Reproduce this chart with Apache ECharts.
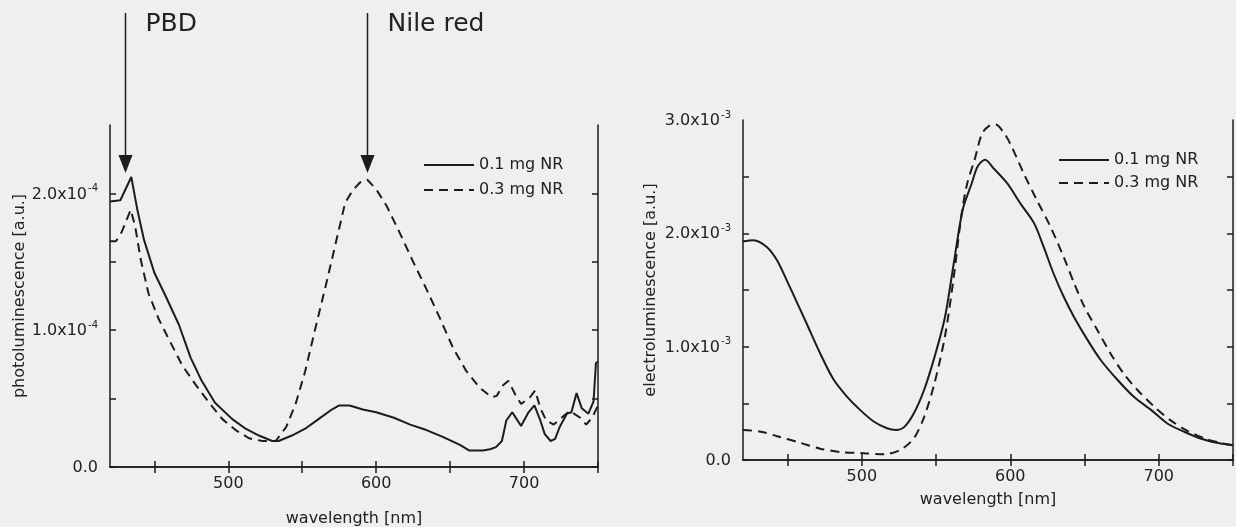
<!DOCTYPE html>
<html>
<head>
<meta charset="utf-8">
<script src="https://cdn.jsdelivr.net/npm/echarts@6/dist/echarts.min.js"></script>
<style>
  html, body { margin: 0; padding: 0; background: #efefef; }
  #main { width: 1236px; height: 527px; }
</style>
</head>
<body>
<div id="main"></div>
<script>
// photoluminescence (left panel), wavelength in nm
const plThinX = [420, 427, 434.4, 438.5, 443, 450, 457.6, 466.6, 474.5, 482, 491, 502.7, 511.7, 520.7, 529.7, 534, 543, 552, 561, 570, 575, 582, 591, 600, 612, 623, 634, 645, 657, 663, 672, 677, 681, 685, 688, 692, 695, 698, 703, 707, 711, 714, 718, 721, 724, 729, 732, 735.5, 739, 743.5, 747, 748.6, 750];
const plThinY = [1.94e-4, 1.95e-4, 2.12e-4, 1.88e-4, 1.66e-4, 1.42e-4, 1.25e-4, 1.04e-4, 0.80e-4, 0.63e-4, 0.47e-4, 0.35e-4, 0.28e-4, 0.23e-4, 0.19e-4, 0.19e-4, 0.23e-4, 0.28e-4, 0.35e-4, 0.42e-4, 0.45e-4, 0.45e-4, 0.42e-4, 0.40e-4, 0.36e-4, 0.31e-4, 0.27e-4, 0.22e-4, 0.16e-4, 0.12e-4, 0.12e-4, 0.13e-4, 0.145e-4, 0.19e-4, 0.34e-4, 0.40e-4, 0.35e-4, 0.30e-4, 0.40e-4, 0.45e-4, 0.34e-4, 0.24e-4, 0.19e-4, 0.205e-4, 0.29e-4, 0.39e-4, 0.40e-4, 0.54e-4, 0.43e-4, 0.39e-4, 0.48e-4, 0.76e-4, 0.77e-4];
const plThickX = [420, 424, 428, 434, 437, 440.7, 446, 453, 460, 469, 478, 487, 496, 505, 514, 523, 532, 539, 545.5, 552, 559, 566, 572.5, 579, 584, 589, 594, 600, 607, 616, 625, 634, 643, 652, 661, 670, 678, 681.5, 686, 689.5, 694, 698, 704, 707.5, 711, 715, 720, 726.5, 731, 738, 742, 746, 750];
const plThickY = [1.65e-4, 1.65e-4, 1.72e-4, 1.88e-4, 1.76e-4, 1.52e-4, 1.27e-4, 1.08e-4, 0.93e-4, 0.74e-4, 0.60e-4, 0.47e-4, 0.35e-4, 0.27e-4, 0.21e-4, 0.19e-4, 0.19e-4, 0.29e-4, 0.46e-4, 0.70e-4, 1.02e-4, 1.33e-4, 1.63e-4, 1.93e-4, 2.02e-4, 2.08e-4, 2.10e-4, 2.03e-4, 1.91e-4, 1.71e-4, 1.50e-4, 1.30e-4, 1.09e-4, 0.87e-4, 0.70e-4, 0.58e-4, 0.51e-4, 0.52e-4, 0.60e-4, 0.63e-4, 0.53e-4, 0.46e-4, 0.51e-4, 0.56e-4, 0.43e-4, 0.34e-4, 0.31e-4, 0.37e-4, 0.41e-4, 0.36e-4, 0.31e-4, 0.36e-4, 0.45e-4];

// electroluminescence (right panel)
const elThinX = [420, 427, 436, 443, 450, 456, 463, 472, 481, 490, 499, 508, 517, 523, 528.5, 535, 542, 549, 556, 562, 568, 574, 578, 583, 589, 598, 607, 616, 622.5, 629, 636, 643, 652, 661, 672, 683, 695, 706, 717, 728, 740, 750];
const elThinY = [1.93e-3, 1.94e-3, 1.88e-3, 1.76e-3, 1.57e-3, 1.40e-3, 1.20e-3, 0.94e-3, 0.71e-3, 0.56e-3, 0.44e-3, 0.34e-3, 0.28e-3, 0.265e-3, 0.29e-3, 0.41e-3, 0.62e-3, 0.91e-3, 1.26e-3, 1.74e-3, 2.21e-3, 2.44e-3, 2.59e-3, 2.65e-3, 2.57e-3, 2.44e-3, 2.26e-3, 2.09e-3, 1.88e-3, 1.65e-3, 1.44e-3, 1.26e-3, 1.06e-3, 0.88e-3, 0.71e-3, 0.56e-3, 0.44e-3, 0.32e-3, 0.25e-3, 0.19e-3, 0.15e-3, 0.13e-3];
const elThickX = [420, 432, 443, 459, 472, 486, 501.5, 515, 526, 535, 542, 549, 556, 562, 567, 571, 576, 581, 586, 590, 595, 600, 609, 618, 627, 636, 643, 650, 658.5, 667.5, 676.5, 685.5, 697, 708, 719, 731, 742, 750];
const elThickY = [0.265e-3, 0.25e-3, 0.21e-3, 0.15e-3, 0.10e-3, 0.07e-3, 0.06e-3, 0.05e-3, 0.09e-3, 0.19e-3, 0.38e-3, 0.68e-3, 1.09e-3, 1.62e-3, 2.15e-3, 2.44e-3, 2.65e-3, 2.88e-3, 2.95e-3, 2.96e-3, 2.90e-3, 2.79e-3, 2.53e-3, 2.29e-3, 2.06e-3, 1.79e-3, 1.56e-3, 1.35e-3, 1.15e-3, 0.94e-3, 0.76e-3, 0.62e-3, 0.47e-3, 0.35e-3, 0.26e-3, 0.19e-3, 0.15e-3, 0.13e-3];

const seriesNames = ["0.1 mg NR", "0.3 mg NR"];

// axis ticks and labels
const xTicks = [450, 500, 550, 600, 650, 700, 750];
const xLabels = [500, 600, 700];
const plTicks = [0, 0.5e-4, 1.0e-4, 1.5e-4, 2.0e-4];
const plLabels = [0, 1.0e-4, 2.0e-4];
const elTicks = [0, 0.5e-3, 1.0e-3, 1.5e-3, 2.0e-3, 2.5e-3];
const elLabels = [0, 1.0e-3, 2.0e-3, 3.0e-3];

// peak markers
const arrows = [
  { text: "PBD", x: 430, y: 2.15e-4 },
  { text: "Nile red", x: 593.6, y: 2.15e-4 },
];

(function () {
  const font = "DejaVu Sans";
  const ink = "#1c1c1c";
  const chart = echarts.init(document.getElementById("main"));

  function pairs(xs, ys) {
    return xs.map(function (x, i) {
      return [x, ys[i]];
    });
  }

  function sciLabel(exp) {
    return function (v) {
      if (v === 0) return "{m|0.0}";
      return "{m|" + (v / Math.pow(10, exp)).toFixed(1) + "x10}{s|" + exp + "}";
    };
  }

  const labelRich = {
    m: { fontSize: 16, fontFamily: font, color: "#222", lineHeight: 18, verticalAlign: "bottom" },
    s: { fontSize: 10, fontFamily: font, color: "#222", lineHeight: 10, verticalAlign: "bottom", padding: [0, 0, 9, 1] },
  };

  function xAxes(grid, nameGap) {
    const line = { lineStyle: { color: ink, width: 1.5 } };
    const tick = { inside: true, length: 6, lineStyle: { color: ink, width: 1.5 }, customValues: xTicks };
    return [
      {
        gridIndex: grid, type: "value", min: 420, max: 750, position: "bottom",
        axisLine: line, axisTick: tick, splitLine: { show: false },
        axisLabel: { customValues: xLabels, fontFamily: font, fontSize: 16, color: "#222", margin: 9 },
        name: "wavelength [nm]", nameLocation: "middle", nameGap: nameGap,
        nameTextStyle: { fontFamily: font, fontSize: 16, color: "#222" },
      },
      {
        gridIndex: grid, type: "value", min: 420, max: 750, position: "top",
        axisLine: line, axisTick: tick, splitLine: { show: false }, axisLabel: { show: false },
      },
    ];
  }

  function yAxes(grid, max, ticks, labels, exp, name, nameGap) {
    const line = { lineStyle: { color: ink, width: 1.5 } };
    const tick = { inside: true, length: 6, lineStyle: { color: ink, width: 1.5 }, customValues: ticks };
    return [
      {
        gridIndex: grid, type: "value", min: 0, max: max, position: "left",
        axisLine: line, axisTick: tick, splitLine: { show: false },
        axisLabel: { customValues: labels, formatter: sciLabel(exp), rich: labelRich, margin: 12 },
        name: name, nameLocation: "middle", nameGap: nameGap,
        nameTextStyle: { fontFamily: font, fontSize: 16, color: "#222" },
      },
      {
        gridIndex: grid, type: "value", min: 0, max: max, position: "right",
        axisLine: line, axisTick: tick, splitLine: { show: false }, axisLabel: { show: false },
      },
    ];
  }

  function curve(name, data, axis, dashed, smooth) {
    return {
      name: name, type: "line", data: data,
      xAxisIndex: axis, yAxisIndex: axis,
      showSymbol: false, symbol: "none", smooth: smooth,
      lineStyle: { color: ink, width: 2, type: dashed ? [9, 6] : "solid" },
      itemStyle: { color: ink },
      animation: false,
    };
  }

  function legend(left, top, gap) {
    return {
      data: seriesNames, orient: "vertical", left: left, top: top,
      itemWidth: 50, itemHeight: 14, itemGap: gap,
      itemStyle: { opacity: 0 },
      textStyle: { fontFamily: font, fontSize: 16, color: "#222" },
      selectedMode: false,
    };
  }

  const option = {
    backgroundColor: "#efefef",
    animation: false,
    grid: [
      { left: 110, right: 638, top: 125, bottom: 60, outerBoundsMode: "none" },
      { left: 743, right: 3, top: 120, bottom: 67, outerBoundsMode: "none" },
    ],
    legend: [legend(418, 152, 9), legend(1053, 147, 7)],
    xAxis: xAxes(0, 44).concat(xAxes(1, 32)),
    yAxis: yAxes(0, 2.5e-4, plTicks, plLabels, -4, "photoluminescence [a.u.]", 82)
      .concat(yAxes(1, 3.0e-3, elTicks, elLabels, -3, "electroluminescence [a.u.]", 84)),
    series: [
      curve(seriesNames[0], pairs(plThinX, plThinY), 0, false, false),
      curve(seriesNames[1], pairs(plThickX, plThickY), 0, true, false),
      curve(seriesNames[0], pairs(elThinX, elThinY), 2, false, 0.3),
      curve(seriesNames[1], pairs(elThickX, elThickY), 2, true, 0.3),
    ],
  };
  chart.setOption(option);

  // arrows pointing at the PBD and Nile red peaks
  const graphic = [];
  arrows.forEach(function (a) {
    const tip = chart.convertToPixel({ xAxisIndex: 0, yAxisIndex: 0 }, [a.x, a.y]);
    const x = Math.round(tip[0]) + 0.5;
    const ty = tip[1];
    graphic.push({
      type: "line", silent: true,
      shape: { x1: x, y1: 13, x2: x, y2: ty - 16 },
      style: { stroke: ink, lineWidth: 1.5 },
    });
    graphic.push({
      type: "polygon", silent: true,
      shape: { points: [[x - 7, ty - 18], [x + 7, ty - 18], [x, ty]] },
      style: { fill: ink },
    });
    graphic.push({
      type: "text", silent: true, x: x + 20, y: 24,
      style: { text: a.text, fontFamily: font, fontSize: 25, fill: "#222", verticalAlign: "middle" },
    });
  });
  chart.setOption({ graphic: graphic });
})();
</script>
</body>
</html>
